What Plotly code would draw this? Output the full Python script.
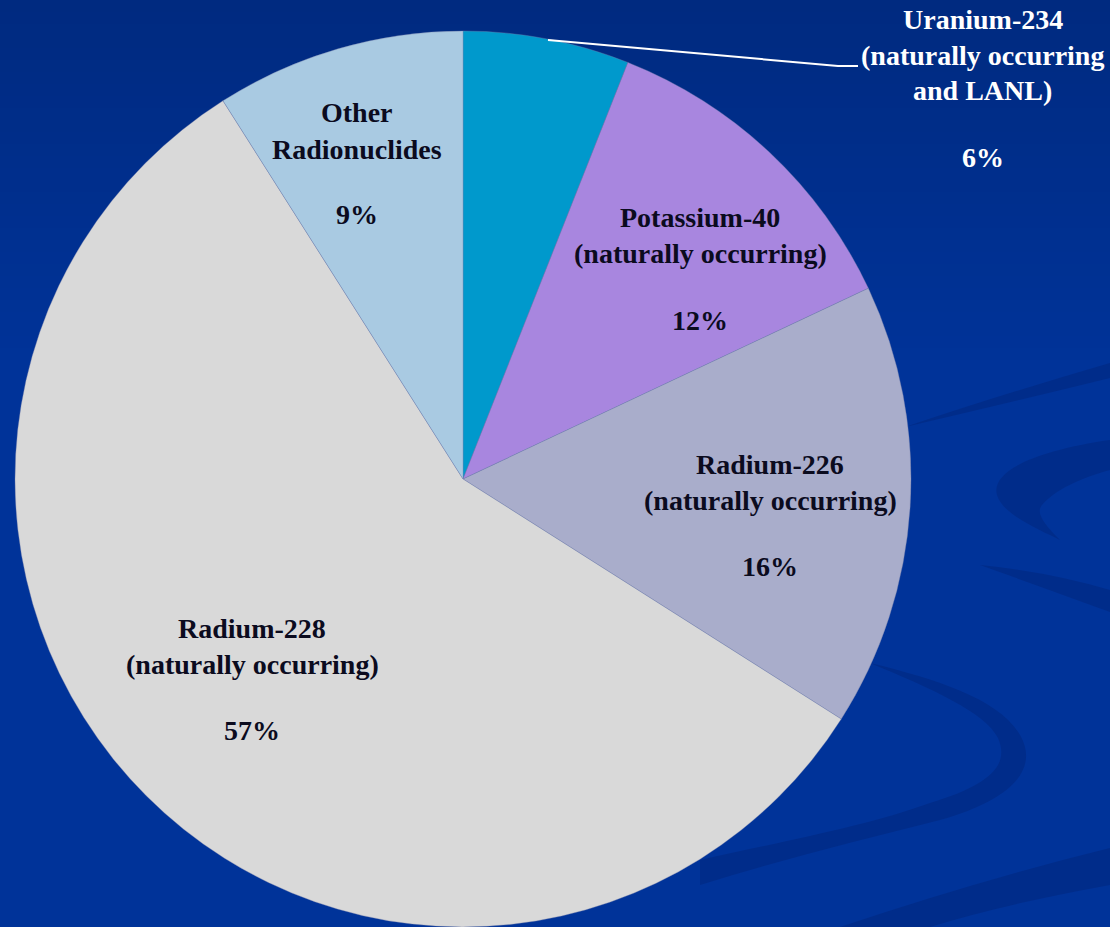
import plotly.graph_objects as go

W, H = 1110, 927

labels = ["Uranium-234", "Potassium-40", "Radium-226", "Radium-228", "Other Radionuclides"]
values = [6, 12, 16, 57, 9]
colors = ["#0099CC", "#A886DF", "#A9ADCB", "#D9D9D9", "#A9CAE2"]
label_lines = [
    ["Uranium-234", "(naturally occurring", "and LANL)"],
    ["Potassium-40", "(naturally occurring)"],
    ["Radium-226", "(naturally occurring)"],
    ["Radium-228", "(naturally occurring)"],
    ["Other", "Radionuclides"],
]
pct_texts = ["6%", "12%", "16%", "57%", "9%"]
# first-line centre of each label block (pixels)
label_pos = [(983, 19), (700, 218), (770, 464), (252, 628), (357, 113)]
label_colors = ["#FFFFFF", "#0B0B1E", "#0B0B1E", "#0B0B1E", "#0B0B1E"]
LINE = 36
PCT_GAP = 66


def px(x, y):
    return x / W, 1 - y / H


def path(points_cmds):
    out = []
    for cmd in points_cmds:
        if isinstance(cmd, str):
            out.append(cmd)
        else:
            x, y = px(*cmd)
            out.append(f"{x:.5f},{y:.5f}")
    return " ".join(out)


fig = go.Figure()
cx, R = 463, 448
fig.add_trace(go.Pie(
    labels=labels,
    values=values,
    sort=False,
    direction="clockwise",
    rotation=0,
    marker=dict(colors=colors, line=dict(color="rgba(120,130,170,0.6)", width=0.6)),
    textinfo="none",
    hoverinfo="label+percent",
    showlegend=False,
    domain=dict(x=[(cx - R) / W, (cx + R) / W], y=[0, 2 * R / H]),
))

shapes = []
# subtle vertical background gradient at the top
top_c = (0, 42, 128)
base_c = (0, 51, 153)
n = 30
for i in range(n):
    y0 = i * 12
    y1 = y0 + 12
    f = i / n
    c = tuple(round(top_c[k] + (base_c[k] - top_c[k]) * f) for k in range(3))
    x0p, y0p = px(0, y0)
    x1p, y1p = px(W, y1)
    shapes.append(dict(type="rect", xref="paper", yref="paper", x0=x0p, x1=x1p, y0=y1p, y1=y0p,
                       fillcolor="rgb(%d,%d,%d)" % c, line=dict(width=0), layer="below"))

swirl = "rgba(0,35,115,0.40)"
swirls = [
    ["M", (905, 427), "Q", (1000, 395), (1110, 363), "L", (1110, 378), "Q", (1000, 405), (905, 427), "Z"],
    ["M", (1110, 440), "C", (1040, 450), (990, 470), (997, 495), "C", (1003, 515), (1040, 530), (1060, 540),
     "C", (1045, 525), (1035, 513), (1042, 505), "C", (1055, 490), (1080, 478), (1110, 470), "Z"],
    ["M", (980, 565), "Q", (1050, 572), (1110, 590), "L", (1110, 612), "Q", (1050, 590), (980, 565), "Z"],
    ["M", (870, 663), "C", (940, 680), (1000, 700), (1020, 735), "C", (1040, 770), (1010, 800), (940, 820),
     "C", (860, 840), (780, 860), (700, 885), "L", (700, 860), "C", (790, 840), (870, 825), (930, 803),
     "C", (990, 785), (1010, 765), (998, 738), "C", (985, 712), (930, 688), (870, 663), "Z"],
    ["M", (840, 927), "Q", (980, 880), (1110, 848), "L", (1110, 885), "Q", (1000, 905), (930, 927), "Z"],
]
for s in swirls:
    shapes.append(dict(type="path", xref="paper", yref="paper", path=path(s),
                       fillcolor=swirl, line=dict(width=0), layer="below"))

# leader line for Uranium-234
shapes.append(dict(type="path", xref="paper", yref="paper",
                   path=path(["M", (548, 40), "L", (838, 66), "L", (858, 66)]),
                   line=dict(color="white", width=2)))

font_family = "Liberation Serif, Times New Roman, serif"
font_size = 28
annotations = []
for lines, pct, (x, y), c in zip(label_lines, pct_texts, label_pos, label_colors):
    rows = [(t, y + i * LINE) for i, t in enumerate(lines)]
    rows.append((pct, y + (len(lines) - 1) * LINE + PCT_GAP))
    for t, yy in rows:
        xp, yp = px(x, yy)
        annotations.append(dict(text="<b>%s</b>" % t, x=xp, y=yp, xref="paper", yref="paper",
                                xanchor="center", yanchor="middle", showarrow=False, align="center",
                                font=dict(family=font_family, size=font_size, color=c)))

fig.update_layout(
    width=W, height=H,
    margin=dict(l=0, r=0, t=0, b=0),
    paper_bgcolor="#003399",
    plot_bgcolor="#003399",
    font=dict(family=font_family),
    shapes=shapes,
    annotations=annotations,
)

fig.write_html("out.html", config={"displayModeBar": False},
               post_script="document.body.style.margin='0';document.body.style.padding='0';")
